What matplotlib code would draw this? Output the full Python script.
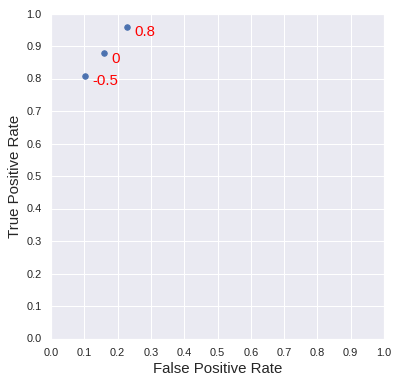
# ROC points for different thresholds
import matplotlib
matplotlib.use("Agg")
import matplotlib.pyplot as plt
import seaborn as sns
import numpy as np

# Data
fpr = [0.103, 0.160, 0.229]
tpr = [0.809, 0.879, 0.960]
thresholds = ["-0.5", "0", "0.8"]
ticks = np.round(np.arange(0, 1.01, 0.1), 1)

sns.set_theme(style="darkgrid")
plt.rcParams['font.family'] = ['Liberation Sans', 'DejaVu Sans']

fig = plt.figure(figsize=(399 / 72, 384 / 72), dpi=72)
ax = fig.add_axes([51 / 399, 1 - 338.5 / 384, 333 / 399, 325 / 384])

ax.scatter(fpr, tpr, s=30)
for x, y, t in zip(fpr, tpr, thresholds):
    ax.text(x + 0.022, y - 0.03, t, color='red', fontsize=15)

ax.set_xlim(0, 1)
ax.set_ylim(0, 1)
ax.set_xticks(ticks)
ax.set_yticks(ticks)
ax.tick_params(labelsize=11)
ax.set_xlabel('False Positive Rate', fontsize=15)
ax.set_ylabel('True Positive Rate', fontsize=15)

fig.savefig('out.png', dpi=72)
